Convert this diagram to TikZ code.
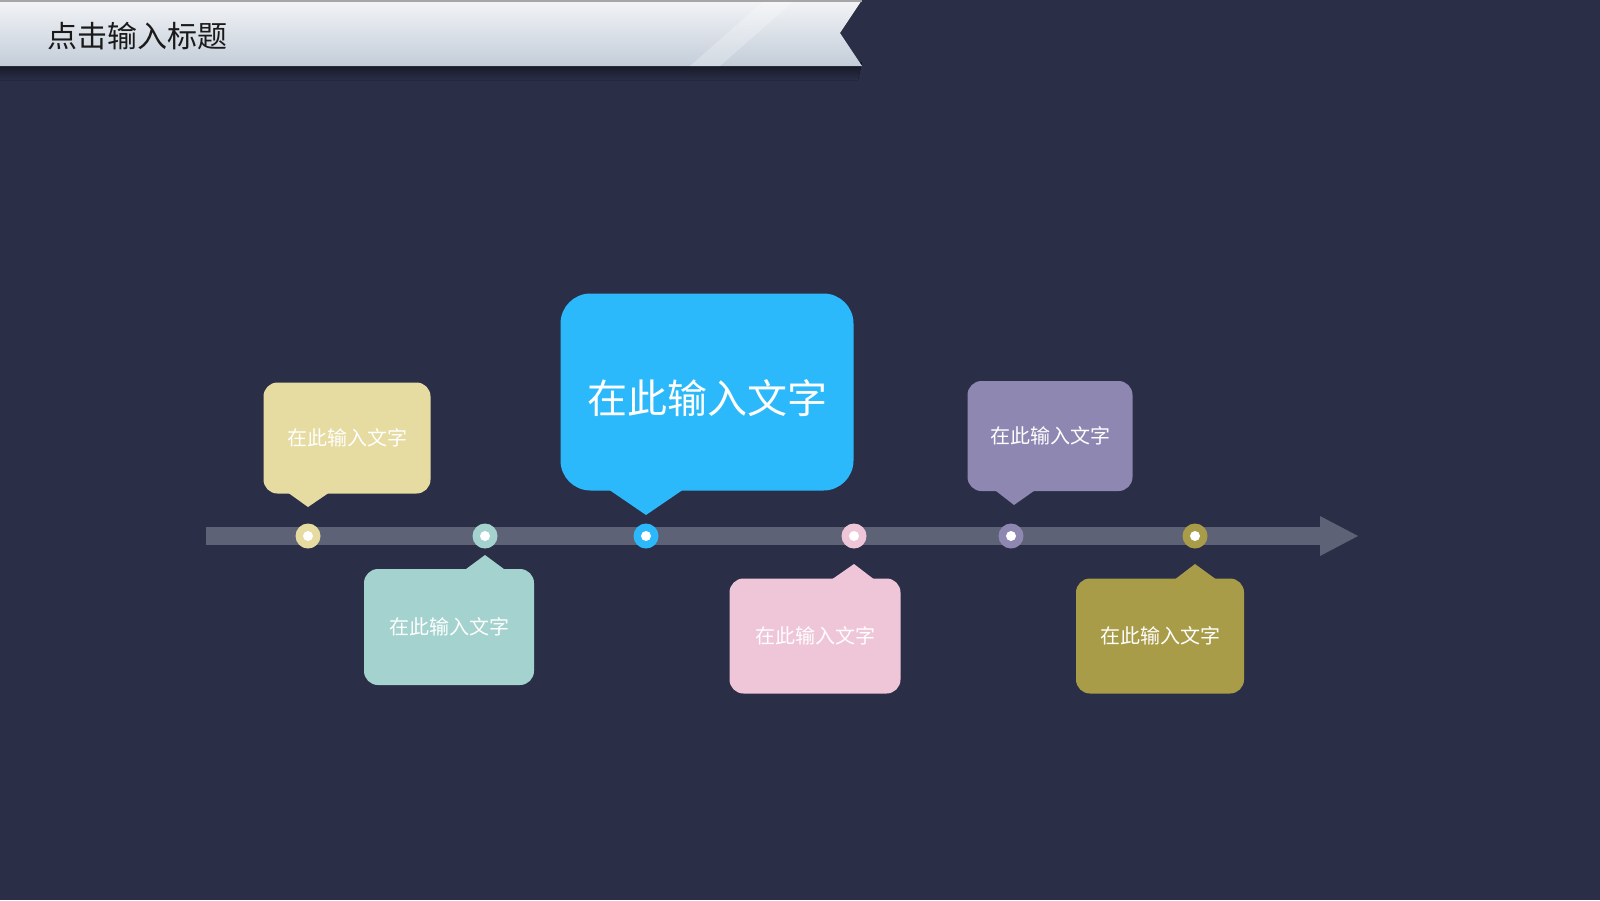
\documentclass[tikz,border=0pt]{standalone}
\usepackage{fontspec}
\newfontfamily\cjk{Noto Sans CJK SC}
\usepackage{tikz}
\usetikzlibrary{calc}
\usepackage{xcolor}
\definecolor{bgnavy}{HTML}{2A2E47}
\definecolor{barg}{HTML}{5E6276}
\definecolor{cyel}{HTML}{E6DBA0}
\definecolor{cteal}{HTML}{A3D2CF}
\definecolor{cblue}{HTML}{2BB9FB}
\definecolor{cpink}{HTML}{EEC6D8}
\definecolor{cpurp}{HTML}{8E87B2}
\definecolor{colive}{HTML}{A99C48}
\definecolor{bannertop}{HTML}{F3F4F7}
\definecolor{bannerbot}{HTML}{C3CDD9}
\definecolor{titleink}{HTML}{1A1A1A}

\begin{document}
\begin{tikzpicture}[
  x=1pt, y=-1pt,
  font=\cjk,
  bubble/.style={rounded corners=14pt, inner sep=0pt, text=white, font=\cjk\fontsize{20pt}{24pt}\selectfont},
  dot/.style={circle, inner sep=0pt, minimum size=25pt, path picture={\fill[white] (path picture bounding box.center) circle (5pt);}}
]
\useasboundingbox (0,0) rectangle (1600,900);
\fill[bgnavy] (0,0) rectangle (1600,900);

\fill[top color=black!55!bgnavy, bottom color=bgnavy] (0,62) -- (862,62) -- (858,80) -- (0,80) -- cycle;
\fill[top color=bannertop, bottom color=bannerbot] (0,0) -- (862,0) -- (840,33) -- (862,66) -- (0,66) -- cycle;
\fill[white, opacity=0.25] (690,66) -- (765,0) -- (795,0) -- (720,66) -- cycle;
\fill[gray!70] (0,0) rectangle (862,2);
\node[anchor=west, text=titleink, font=\cjk\fontsize{30pt}{36pt}\selectfont] (title) at (44,36) {点击输入标题};

\coordinate (tl0) at (206,536);
\coordinate (tl1) at (1358,536);
\fill[barg] ($(tl0)+(0,-9)$) rectangle ($(tl1)+(-36,9)$);
\fill[barg] ($(tl1)+(-38,-20)$) -- (tl1) -- ($(tl1)+(-38,20)$) -- cycle;

\node[dot, fill=cyel] (d1) at (308,536) {};
\node[dot, fill=cteal] (d2) at (485,536) {};
\node[dot, fill=cblue] (d3) at (646,536) {};
\node[dot, fill=cpink] (d4) at (854,536) {};
\node[dot, fill=cpurp] (d5) at (1011,536) {};
\node[dot, fill=colive] (d6) at (1195,536) {};

\node[bubble, fill=cyel, minimum width=167pt, minimum height=111pt] (b1) at (347,438) {在此输入文字};
\fill[cyel] ($(d1 |- b1.south)+(-20,-1)$) -- ($(d1 |- b1.south)+(21,-1)$) -- ($(d1)+(0,-29)$) -- cycle;

\node[bubble, fill=cteal, minimum width=170pt, minimum height=116pt] (b2) at (449,627) {在此输入文字};
\fill[cteal] ($(d2 |- b2.north)+(-20,1)$) -- ($(d2 |- b2.north)+(20,1)$) -- ($(d2)+(0,19)$) -- cycle;

\node[bubble, fill=cblue, rounded corners=30pt, minimum width=293pt, minimum height=197pt, font=\cjk\fontsize{40pt}{48pt}\selectfont] (b3) at (707,392) {\raisebox{-6pt}[\height][\depth]{在此输入文字}};
\fill[cblue] ($(d3 |- b3.south)+(-37,-1)$) -- ($(d3 |- b3.south)+(37,-1)$) -- ($(d3)+(0,-21)$) -- cycle;

\node[bubble, fill=cpink, minimum width=171pt, minimum height=115pt] (b4) at (815,636) {在此输入文字};
\fill[cpink] ($(d4 |- b4.north)+(-22,1)$) -- ($(d4 |- b4.north)+(20,1)$) -- ($(d4)+(0,28)$) -- cycle;

\node[bubble, fill=cpurp, minimum width=165pt, minimum height=110pt] (b5) at (1050,436) {在此输入文字};
\fill[cpurp] ($(d5 |- b5.south)+(-16,-1)$) -- ($(d5 |- b5.south)+(24,-1)$) -- ($(d5)+(3,-31)$) -- cycle;

\node[bubble, fill=colive, minimum width=168pt, minimum height=115pt] (b6) at (1160,636) {在此输入文字};
\fill[colive] ($(d6 |- b6.north)+(-20,1)$) -- ($(d6 |- b6.north)+(21,1)$) -- ($(d6)+(0,28)$) -- cycle;
\end{tikzpicture}
\end{document}
